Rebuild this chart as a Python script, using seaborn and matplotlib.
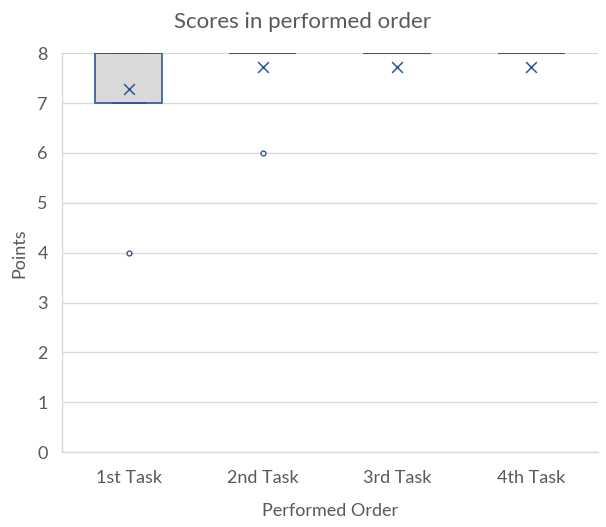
import matplotlib
matplotlib.use("Agg")
import matplotlib.pyplot as plt
import seaborn as sns
import pandas as pd

# Data
tasks = ["1st Task", "2nd Task", "3rd Task", "4th Task"]
scores_task1 = [4, 7, 7, 7, 7, 8, 8, 8, 8, 8, 8]
scores_task2 = [6, 8, 8, 8, 8, 8, 8]
scores_task3 = [8, 8, 8, 8, 8, 8, 8]
scores_task4 = [8, 8, 8, 8, 8, 8, 8]
means = [7.28, 7.72, 7.72, 7.72]
y_ticks = [0, 1, 2, 3, 4, 5, 6, 7, 8]

rows = []
for t, s in zip(tasks, [scores_task1, scores_task2, scores_task3, scores_task4]):
    for v in s:
        rows.append({"Task": t, "Points": v})
df = pd.DataFrame(rows)
mean_df = pd.DataFrame({"Task": tasks, "Mean": means})

sns.set_theme(style="white")
plt.rcParams["font.family"] = ["Lato", "DejaVu Sans"]

text_col = "#595959"
edge_col = "#2F5597"
grid_col = "#D9D9D9"

fig = plt.figure(figsize=(6.06, 5.27), dpi=100)
ax = fig.add_axes([0.102, 0.142, 0.885, 0.757])

sns.boxplot(data=df, x="Task", y="Points", order=tasks, width=0.5, ax=ax,
            color="#D9D9D9", linewidth=1.2, whis=1.5,
            boxprops=dict(facecolor="#D9D9D9", edgecolor=edge_col),
            medianprops=dict(color=edge_col, linewidth=1.2),
            whiskerprops=dict(color=edge_col),
            capprops=dict(color=edge_col),
            flierprops=dict(marker="o", markersize=3.5, markerfacecolor="white",
                            markeredgecolor=edge_col, markeredgewidth=1.0),
            zorder=3)

sns.scatterplot(data=mean_df, x="Task", y="Mean", marker="x", s=60,
                color=edge_col, linewidth=1.1, ax=ax, zorder=4, legend=False)

ax.set_xlim(-0.5, 3.5)
ax.set_ylim(0, 8)
ax.set_yticks(y_ticks)
ax.yaxis.grid(True, color=grid_col, linewidth=1.0, zorder=0)
ax.xaxis.grid(False)
ax.set_axisbelow(True)
for side in ["top", "right"]:
    ax.spines[side].set_visible(False)
for side in ["left", "bottom"]:
    ax.spines[side].set_color(grid_col)
    ax.spines[side].set_linewidth(1.0)
ax.tick_params(axis="x", length=0, labelsize=13, colors=text_col, pad=13)
ax.tick_params(axis="y", length=0, labelsize=13, colors=text_col, pad=10)

fig.suptitle("Scores in performed order", fontsize=16, color=text_col,
             x=0.5, y=0.978, va="top")
ax.set_xlabel("Performed Order", fontsize=13, color=text_col, labelpad=12)
ax.set_ylabel("Points", fontsize=13, color=text_col, labelpad=7)

fig.savefig("out.png", dpi=100)
